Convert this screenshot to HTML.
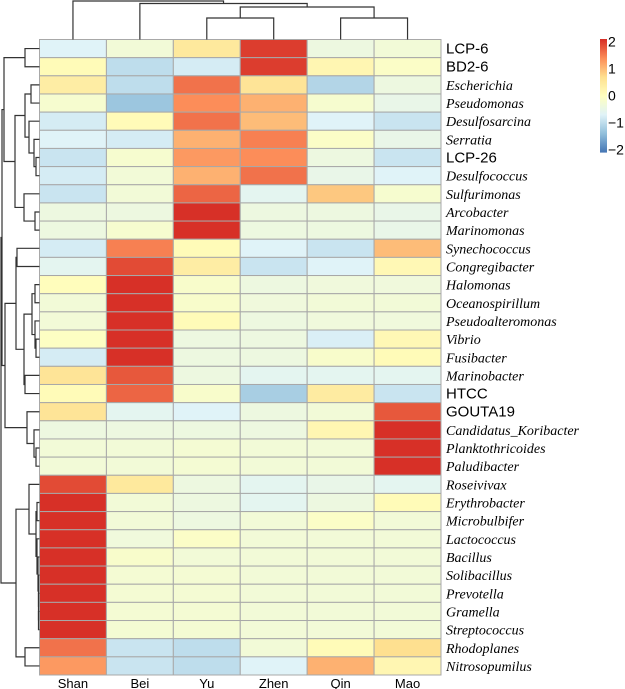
<!DOCTYPE html>
<html><head><meta charset="utf-8"><style>
html,body{margin:0;padding:0;background:#fff;}
svg{display:block;}
.sans{font-family:"Liberation Sans",sans-serif;}
.ser{font-family:"Liberation Serif",serif;font-style:italic;}
</style></head><body>
<svg id="chart" width="625" height="689" viewBox="0 0 625 689" xmlns="http://www.w3.org/2000/svg">
<g id="cells"></g>
<g id="rowLabels"></g>
<g id="colLabels"></g>
<g id="rowDendro" stroke="#333" stroke-width="1.2" fill="none"></g>
<g id="colDendro" stroke="#333" stroke-width="1.2" fill="none"></g>
<g id="legend"></g>
</svg>
<script>
const columns = ["Shan","Bei","Yu","Zhen","Qin","Mao"];
const rows = ["LCP-6","BD2-6","Escherichia","Pseudomonas","Desulfosarcina","Serratia","LCP-26","Desulfococcus","Sulfurimonas","Arcobacter","Marinomonas","Synechococcus","Congregibacter","Halomonas","Oceanospirillum","Pseudoalteromonas","Vibrio","Fusibacter","Marinobacter","HTCC","GOUTA19","Candidatus_Koribacter","Planktothricoides","Paludibacter","Roseivivax","Erythrobacter","Microbulbifer","Lactococcus","Bacillus","Solibacillus","Prevotella","Gramella","Streptococcus","Rhodoplanes","Nitrosopumilus"];
const italicRows = [0,0,1,1,1,1,0,1,1,1,1,1,1,1,1,1,1,1,1,0,0,1,1,1,1,1,1,1,1,1,1,1,1,1,1];
const values = [
[-0.7,-0.3,0.5,2.0,-0.4,-0.3],
[0.1,-1.0,-0.8,2.0,0.2,-0.1],
[0.4,-1.0,1.6,0.6,-1.1,-0.4],
[-0.2,-1.3,1.4,1.1,-0.2,-0.5],
[-0.8,0.1,1.6,1.0,-0.7,-0.9],
[-0.7,-0.8,1.1,1.5,-0.1,-0.5],
[-0.9,-0.2,1.3,1.4,-0.4,-0.9],
[-0.8,-0.3,1.1,1.6,-0.5,-0.7],
[-0.9,-0.3,1.7,-0.6,0.9,-0.2],
[-0.4,-0.4,2.1,-0.4,-0.4,-0.5],
[-0.4,-0.2,2.1,-0.4,-0.4,-0.5],
[-0.8,1.5,0.1,-0.7,-0.9,1.0],
[-0.6,1.9,0.4,-0.9,-0.7,0.15],
[0.05,2.1,-0.15,-0.4,-0.35,-0.35],
[-0.3,2.1,-0.15,-0.35,-0.3,-0.3],
[-0.3,2.1,0.1,-0.4,-0.35,-0.35],
[-0.05,2.1,-0.4,-0.4,-0.75,0.15],
[-0.8,2.1,-0.4,-0.4,-0.15,0.1],
[0.6,1.8,-0.4,-0.6,-0.6,-0.6],
[0.1,1.7,-0.15,-1.2,0.45,-0.9],
[0.6,-0.6,-0.7,-0.4,-0.3,1.8],
[-0.4,-0.4,-0.4,-0.4,0.2,2.1],
[-0.3,-0.3,-0.25,-0.3,-0.3,2.1],
[-0.3,-0.3,-0.25,-0.3,-0.3,2.1],
[1.9,0.5,-0.4,-0.6,-0.5,-0.6],
[2.1,-0.3,-0.4,-0.6,-0.4,0.1],
[2.1,-0.3,-0.4,-0.3,-0.1,-0.3],
[2.1,-0.35,-0.1,-0.3,-0.3,-0.3],
[2.1,-0.15,-0.3,-0.3,-0.3,-0.3],
[2.1,-0.25,-0.25,-0.3,-0.3,-0.3],
[2.1,-0.25,-0.25,-0.3,-0.3,-0.3],
[2.1,-0.25,-0.25,-0.3,-0.3,-0.3],
[2.1,-0.25,-0.25,-0.3,-0.3,-0.3],
[1.6,-0.9,-1.0,-0.3,0.1,0.7],
[1.3,-0.9,-1.0,-0.7,1.1,0.2]
];
const legendTicks = [2,1,0,-1,-2];
const palette = ["#4575B4","#91BFDB","#E0F3F8","#FFFFBF","#FEE090","#FC8D59","#D73027"];
const vmin = -2.1, vmax = 2.1;

const NS = "http://www.w3.org/2000/svg";
const gx0 = 39.5, gx1 = 441, gy0 = 39.5, gy1 = 675;
const cw = (gx1-gx0)/columns.length, rh = (gy1-gy0)/rows.length;
const xPos = i => gx0 + i*cw;
const yPos = j => gy0 + j*rh;
function hex(c){return [1,3,5].map(k=>parseInt(c.substr(k,2),16));}
function color(v){
  let t = (v-vmin)/(vmax-vmin); t = Math.max(0,Math.min(1,t));
  const s = t*(palette.length-1); const i = Math.min(palette.length-2, Math.floor(s)); const f = s-i;
  const a = hex(palette[i]), b = hex(palette[i+1]);
  return "rgb("+a.map((x,k)=>Math.round(x+(b[k]-x)*f)).join(",")+")";
}
function mk(tag, attrs, parent){const e=document.createElementNS(NS,tag);for(const k in attrs)e.setAttribute(k,attrs[k]);parent.appendChild(e);return e;}

const cells = document.getElementById("cells");
values.forEach((row,j)=>row.forEach((v,i)=>{
  const r = mk("rect",{x:xPos(i),y:yPos(j),width:cw,height:rh,fill:color(v),stroke:"#a8a8a8","stroke-width":1},cells);
  
  
}));

const rl = document.getElementById("rowLabels");
rows.forEach((n,j)=>{
  const it = italicRows[j];
  const t = mk("text",{x:446,y:yPos(j)+rh/2+5,"font-size":it?14:15,"class":it?"ser":"sans",fill:"#000"},rl);
  t.textContent = n;
  
  
});
const cl = document.getElementById("colLabels");
columns.forEach((n,i)=>{
  const t = mk("text",{x:xPos(i)+cw/2,y:688,"font-size":13,"class":"sans","text-anchor":"middle",fill:"#000"},cl);
  t.textContent = n;
  
  
});

// column dendrogram: [left, right, height(y)]
const colTree = [0,[1,[[2,3,18],[4,5,18],7],3.5],1];
const rowTree =
 [[[[0,1,25],[[[2,3,31],[4,[5,[6,7,36],34],29],25],[8,[9,10,35],24],15],4],
   [[[11,12,17],[[[13,14,35],[15,[16,17,36],35],32],[18,19,25],24],16],[20,[21,[22,23,36],34],27],5],2],
  [[24,[[25,26,37],[27,[28,[29,[30,[31,32,38.5],38.5],38.5],38],37],36],29],[33,34,25],16],1];
const cd = document.getElementById("colDendro");
function drawCol(n){
  if(typeof n==="number") return {x:xPos(n)+cw/2,y:gy0};
  const a=drawCol(n[0]), b=drawCol(n[1]), h=n[2];
  const p = mk("path",{d:`M${a.x},${a.y}V${h}H${b.x}V${b.y}`},cd);
  
  
  return {x:(a.x+b.x)/2,y:h};
}
drawCol(colTree);
const rd = document.getElementById("rowDendro");
function drawRow(n){
  if(typeof n==="number") return {x:gx0,y:yPos(n)+rh/2};
  const a=drawRow(n[0]), b=drawRow(n[1]), h=n[2];
  const p = mk("path",{d:`M${a.x},${a.y}H${h}V${b.y}H${b.x}`},rd);
  
  
  return {x:h,y:(a.y+b.y)/2};
}
drawRow(rowTree);

// legend
const lg = document.getElementById("legend");
const ly0 = 39, ly1 = 152, lx = 600, lw = 7;
const ly = v => ly0 + (vmax-v)/(vmax-vmin)*(ly1-ly0);
for(let k=0;k<113;k++){
  const v0 = vmax - k*(vmax-vmin)/113;
  const r = mk("rect",{x:lx,y:ly(v0),width:lw,height:(ly1-ly0)/113+0.6,fill:color(v0)},lg);
  
  
}
legendTicks.forEach(v=>{
  const t = mk("text",{x:lx+lw+1,y:ly(v)+5,"font-size":14,"class":"sans",fill:"#000"},lg);
  t.textContent = v<0 ? "\u2212"+Math.abs(v) : String(v);
  
  
});
</script>
</body></html>
